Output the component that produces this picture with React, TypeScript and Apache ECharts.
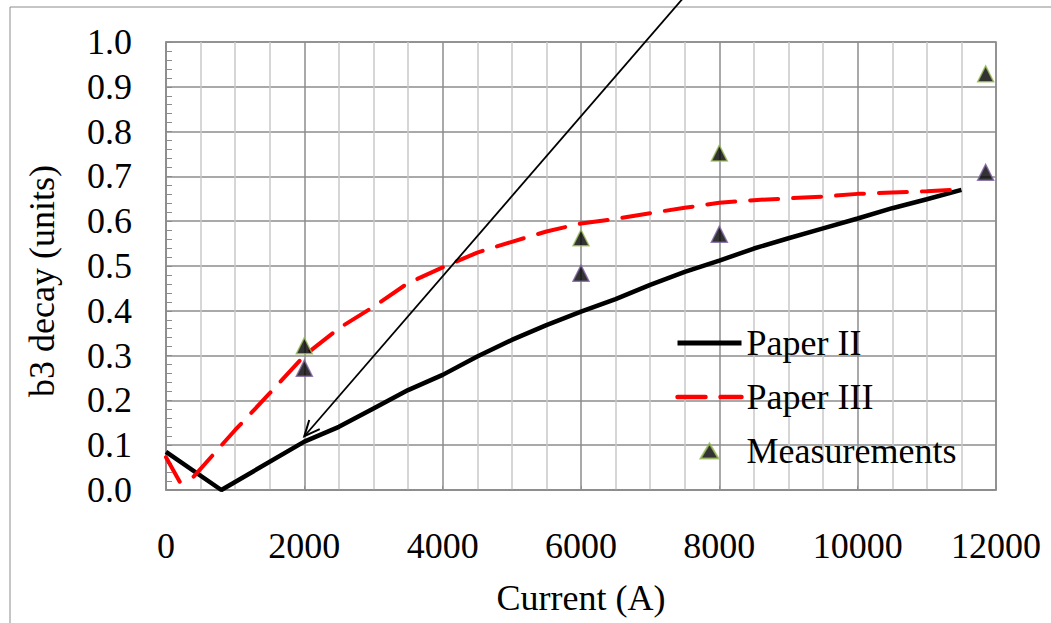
import React, { useEffect, useRef } from "react";
import * as echarts from "echarts";

// Paper II model curve
const paperIICurrent = [0, 800, 2000, 2500, 3000, 3500, 4000, 4500, 5000, 5500, 6000, 6500, 7000, 7500, 8000, 8500, 9000, 9500, 10000, 10500, 11000, 11500];
const paperIIDecay = [0.085, 0.0, 0.108, 0.141, 0.182, 0.223, 0.257, 0.298, 0.335, 0.368, 0.398, 0.426, 0.458, 0.487, 0.512, 0.539, 0.562, 0.584, 0.606, 0.629, 0.649, 0.67];

// Paper III model curve
const paperIIICurrent = [0, 200, 400, 1000, 1500, 2000, 2500, 3000, 3500, 4000, 4500, 5000, 5500, 6000, 6500, 7000, 7500, 8000, 8500, 9000, 9500, 10000, 10500, 11000, 11500];
const paperIIIDecay = [0.073, 0.018, 0.03, 0.134, 0.216, 0.3, 0.361, 0.409, 0.462, 0.497, 0.53, 0.554, 0.577, 0.595, 0.605, 0.618, 0.63, 0.641, 0.647, 0.651, 0.655, 0.661, 0.664, 0.667, 0.671];

// Measured points (two sets)
const measCurrent = [2000, 6000, 8000, 11850];
const measUpper = [0.322, 0.563, 0.752, 0.929];
const measLower = [0.272, 0.484, 0.571, 0.709];

// Annotation arrow: from (current, decay) to (current, decay)
const arrowFrom = [7600, 1.12];
const arrowTo = [2000, 0.12];

const FONT = "'Liberation Serif', 'Times New Roman', serif";
const FS = 36;

// Legend icon: a triangle centred inside a 64x16 box
const TRIANGLE_ICON = "path://M0,0 M64,16 M23,15.6 L32,0.4 L41,15.6 Z";

const zip = (xs: number[], ys: number[]) => xs.map((x, i) => [x, ys[i]]);

export default function App() {
  const ref = useRef<HTMLDivElement>(null);

  useEffect(() => {
    if (!ref.current) return;
    const chart = echarts.init(ref.current, undefined, { renderer: "svg" });

    chart.setOption({
      animation: false,
      backgroundColor: "#ffffff",
      graphic: [
        {
          type: "rect",
          shape: { x: 10, y: 7, width: 1200, height: 800 },
          style: { fill: "none", stroke: "#8c8c8c", lineWidth: 1 },
          silent: true,
          z: -1,
        },
      ],
      grid: { left: 166, top: 42, right: 55, bottom: 133, show: true, borderColor: "#8c8c8c", borderWidth: 1.5 },
      legend: {
        orient: "vertical",
        left: 675,
        top: 325,
        padding: 0,
        itemWidth: 64,
        itemHeight: 16,
        itemGap: 18,
        textStyle: { fontFamily: FONT, fontSize: FS, color: "#000" },
        data: [
          { name: "Paper II", itemStyle: { opacity: 0 }, lineStyle: { width: 5 } },
          { name: "Paper III", itemStyle: { opacity: 0 }, lineStyle: { width: 4.5 } },
          { name: "Measurements", icon: TRIANGLE_ICON },
        ],
      },
      xAxis: {
        type: "value",
        min: 0,
        max: 12000,
        interval: 2000,
        name: "Current (A)",
        nameLocation: "middle",
        nameGap: 90,
        nameTextStyle: { fontFamily: FONT, fontSize: FS, color: "#000" },
        axisLine: { show: true, lineStyle: { color: "#8c8c8c", width: 1.5 } },
        axisTick: { show: true, inside: true, length: 4, lineStyle: { color: "#8c8c8c" } },
        axisLabel: {
          fontFamily: FONT,
          fontSize: FS,
          color: "#000",
          margin: 38,
          formatter: (v: number) => String(v),
        },
        splitLine: { show: true, lineStyle: { color: "#8c8c8c", width: 1.5 } },
        minorTick: { show: false, splitNumber: 4 },
        minorSplitLine: { show: true, lineStyle: { color: "#c8c8c8", width: 1.5 } },
      },
      yAxis: {
        type: "value",
        min: 0,
        max: 1,
        interval: 0.1,
        name: "b3 decay (units)",
        nameLocation: "middle",
        nameGap: 106,
        nameTextStyle: { fontFamily: FONT, fontSize: FS, color: "#000", padding: [0, 30, 0, 0] },
        axisLine: { show: true, lineStyle: { color: "#8c8c8c", width: 1.5 } },
        axisTick: { show: true, inside: true, length: 6, lineStyle: { color: "#8c8c8c" } },
        minorTick: { show: true, splitNumber: 5, length: 6, lineStyle: { color: "#8c8c8c" } },
        axisLabel: {
          fontFamily: FONT,
          fontSize: FS,
          color: "#000",
          margin: 34,
          formatter: (v: number) => v.toFixed(1),
        },
        splitLine: { show: true, lineStyle: { color: "#8c8c8c", width: 1.5 } },
      },
      series: [
        {
          name: "Paper II",
          type: "line",
          data: zip(paperIICurrent, paperIIDecay),
          symbol: "none",
          color: "#000",
          lineStyle: { color: "#000", width: 4.5 },
          z: 3,
        },
        {
          name: "Paper III",
          type: "line",
          data: zip(paperIIICurrent, paperIIIDecay),
          symbol: "none",
          color: "#ff0000",
          lineStyle: { color: "#ff0000", width: 4, type: [28, 15], cap: "round" },
          z: 4,
        },
        {
          name: "Measurements",
          type: "scatter",
          data: zip(measCurrent, measUpper),
          symbol: "triangle",
          symbolSize: 16,
          itemStyle: { color: "#000", borderColor: "#9bbb59", borderWidth: 1.5 },
          z: 5,
        },
        {
          name: "Measurements (set 2)",
          type: "scatter",
          data: zip(measCurrent, measLower),
          symbol: "triangle",
          symbolSize: 16,
          itemStyle: { color: "#000", borderColor: "#8064a2", borderWidth: 1.5 },
          z: 5,
        },
        {
          name: "arrow",
          type: "custom",
          clip: false,
          silent: true,
          z: 6,
          data: [[arrowFrom[0], arrowFrom[1], arrowTo[0], arrowTo[1]]],
          renderItem: (_params: any, api: any) => {
            const p0 = api.coord([api.value(0), api.value(1)]);
            const p1 = api.coord([api.value(2), api.value(3)]);
            const ang = Math.atan2(p1[1] - p0[1], p1[0] - p0[0]);
            const headLen = 17;
            const spread = 0.42;
            const a1 = [p1[0] - headLen * Math.cos(ang - spread), p1[1] - headLen * Math.sin(ang - spread)];
            const a2 = [p1[0] - headLen * Math.cos(ang + spread), p1[1] - headLen * Math.sin(ang + spread)];
            return {
              type: "group",
              children: [
                {
                  type: "line",
                  shape: { x1: p0[0], y1: p0[1], x2: p1[0], y2: p1[1] },
                  style: { stroke: "#000", lineWidth: 1.8 },
                },
                {
                  type: "polyline",
                  shape: { points: [a1, p1, a2] },
                  style: { stroke: "#000", lineWidth: 2, fill: "none" },
                },
              ],
            };
          },
        },
      ],
    });

    return () => chart.dispose();
  }, []);

  return (
    <div
      ref={ref}
      style={{ position: "fixed", left: 0, top: 0, width: 1051, height: 623 }}
    />
  );
}
